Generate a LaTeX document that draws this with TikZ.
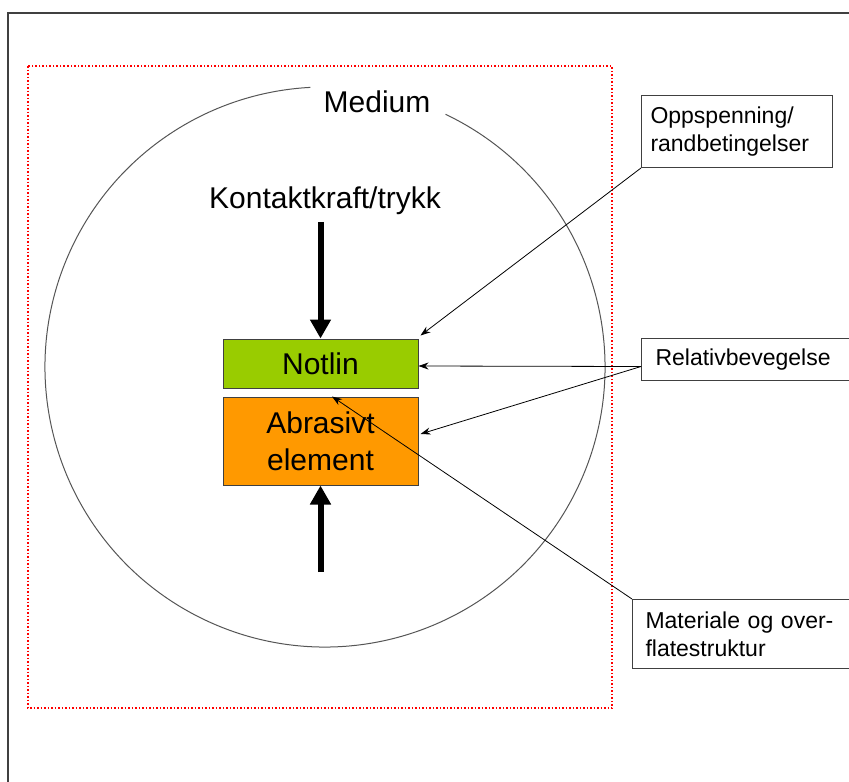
\documentclass[tikz,border=0pt]{standalone}
\usepackage{fontspec}
\setmainfont{Liberation Sans}
\usetikzlibrary{arrows.meta}
\definecolor{notgreen}{HTML}{99CC00}
\definecolor{abrorange}{HTML}{FF9900}
\definecolor{edgegray}{HTML}{404040}
\definecolor{circgray}{HTML}{555555}
\begin{document}
\begin{tikzpicture}[x=1pt,y=-1pt,
  bigtext/.style={font=\fontsize{30}{37}\selectfont},
  smalltext/.style={font=\fontsize{23}{28}\selectfont},
  block/.style={draw=edgegray, line width=1pt, minimum width=195pt, inner sep=0pt, align=center, bigtext},
  callout/.style={draw=edgegray, line width=1pt, fill=white, anchor=north west, align=left, smalltext, inner ysep=0pt},
  force/.style={line width=6pt, -{Triangle[width=20pt,length=19pt]}},
  link/.style={line width=0.8pt, -{Stealth[length=10pt,width=7pt]}},
]
\useasboundingbox (0,0) rectangle (849,782);
\fill[white] (0,0) rectangle (849,782);
% outer frame (only top and left visible)
\draw[edgegray, line width=1.5pt] (8,782) -- (8,13) -- (849,13);
% dotted red region
\draw[red, line width=1.6pt, dash pattern=on 1.5pt off 2pt] (28,66) rectangle (612,708);
% medium circle with gap for label
\draw[circgray, line width=1pt] (325,367) ++(-64.5:280) arc[start angle=-64.5, end angle=267, radius=280];

\node[bigtext, anchor=base] (medium) at (377,112) {Medium};
\node[bigtext, anchor=base] (kontakt) at (325,208) {Kontaktkraft/trykk};

\node[block, fill=notgreen, minimum height=49pt] (notlin) at (320.5,363.5) {Notlin};
\node[block, fill=abrorange, minimum height=88pt] (abr) at (320.5,441) {Abrasivt\\element};

\node[callout, minimum height=72pt, text width=173pt, inner xsep=9pt] (opp) at (641,95) {Oppspenning/\\randbetingelser};
\node[callout, minimum height=42pt, text width=200pt, inner xsep=14pt] (rel) at (641,338) {Relativbevegelse};
\node[callout, minimum height=69pt, text width=215pt, inner xsep=13pt] (mat) at (632,599) {Materiale og over-\\flatestruktur};

\coordinate (bstart) at (320.5,572);
\draw[force, shorten <=4pt] (kontakt.south -| notlin.north) -- (notlin.north);
\draw[force] (bstart) -- (abr.south);

\draw[link] (opp.south west) -- ([xshift=2pt,yshift=3pt]notlin.north east);
\draw[link] ([yshift=-7pt]rel.west) -- ([yshift=-2.5pt]notlin.east);
\draw[link] ([yshift=-7pt]rel.west) -- ([xshift=2pt,yshift=7pt]abr.east);
\draw[link] (mat.north west) -- ([xshift=11.5pt]abr.north);
\end{tikzpicture}
\end{document}
